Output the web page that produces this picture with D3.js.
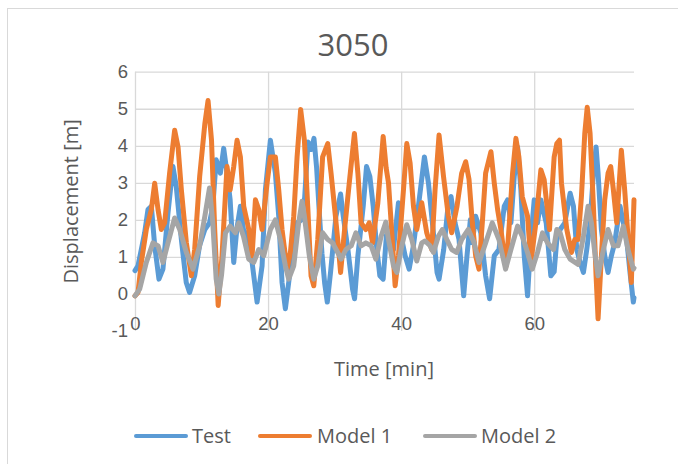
<!DOCTYPE html>
<html>
<head>
<meta charset="utf-8">
<script src="https://cdn.jsdelivr.net/npm/d3@7"></script>
<style>
  html, body { margin: 0; padding: 0; background: #fff; }
  svg { display: block; font-family: "Open Sans", "Noto Sans", sans-serif; }
</style>
</head>
<body>
<svg id="chart" width="678" height="464"></svg>
<script>
// Displacement time histories for case 3050: [time (min), displacement (m)]
const testData = [
  [0,0.63],[0.45,0.76],[0.95,1.2],[1.45,1.65],[1.95,2.28],[2.46,2.37],[2.96,1.3],[3.6,0.4],[4.2,0.67],
  [4.96,2.19],[5.7,3.44],[6.2,2.9],[6.97,1.47],[7.7,0.31],[8.2,0.04],[8.97,0.49],[9.7,1.3],[10.5,1.74],
  [11.2,1.92],[11.7,2.37],[12.2,3.62],[12.83,3.26],[13.33,3.93],[13.83,3.26],[14.3,2.54],[14.84,0.85],
  [15.3,1.74],[15.84,2.37],[16.3,1.74],[16.84,1.56],[17.6,0.85],[18.35,-0.22],[19.1,0.76],[19.6,2.81],
  [20.35,4.15],[21.1,3.26],[21.6,2.1],[22.1,0.31],[22.6,-0.4],[23.1,0.31],[23.6,1.03],[24.36,1.92],
  [25.0,2.0],[25.5,2.6],[26.0,4.1],[26.5,3.9],[26.9,4.2],[27.3,3.4],[27.7,2.2],[28.1,1.1],[28.5,0.3],
  [28.9,-0.22],[29.4,0.6],[30.2,2.1],[30.9,2.7],[31.3,2.1],[32.0,1.2],[32.7,0.13],[33.0,-0.13],[33.5,1.03],
  [34.3,2.37],[34.8,3.44],[35.3,3.17],[35.8,2.37],[36.3,1.3],[36.8,0.49],[37.3,0.4],[37.8,1.6],[38.1,1.3],
  [38.85,1.2],[39.1,1.65],[39.6,2.46],[40.1,1.47],[40.6,1.03],[41.2,0.67],[41.85,1.3],[42.6,2.37],
  [43.5,3.7],[44.1,3.0],[44.9,1.56],[45.4,0.58],[45.7,0.4],[46.4,1.2],[47.1,2.46],[47.5,2.63],[48.1,1.92],
  [48.7,1.47],[49.4,-0.05],[49.9,1.03],[50.4,2.0],[50.7,1.38],[51.2,2.1],[51.97,1.65],[52.7,0.49],
  [53.3,-0.13],[54.0,1.03],[54.7,1.2],[55.5,2.37],[56.0,2.54],[56.5,1.92],[57.0,3.17],[57.5,3.97],
  [58.0,2.81],[58.5,1.03],[59.0,-0.05],[59.5,1.47],[60.0,2.54],[60.5,1.92],[61.0,2.54],[61.8,1.92],
  [62.5,0.49],[63.0,0.6],[63.4,1.47],[63.9,1.74],[64.6,1.92],[65.4,2.72],[65.9,2.37],[66.4,1.2],
  [66.9,0.85],[67.4,0.58],[67.9,1.2],[68.4,1.92],[68.9,3.26],[69.3,3.97],[69.6,3.26],[70.1,1.74],
  [70.6,1.03],[71.1,0.58],[71.6,1.03],[72.1,1.38],[72.9,2.37],[73.4,1.92],[73.9,1.47],[74.4,0.58],
  [74.9,-0.22],[75,-0.1]
];

const model1Data = [
  [0,-0.05],[0.45,0.04],[0.95,0.85],[1.7,1.74],[2.46,2.28],[2.96,2.99],[3.46,2.28],[3.96,1.74],[4.46,1.92],
  [5.2,3.26],[5.96,4.42],[6.47,3.97],[6.97,2.81],[7.72,1.38],[8.47,0.49],[8.97,1.2],[9.72,3.17],[10.5,4.6],
  [10.98,5.22],[11.5,4.15],[11.98,1.74],[12.5,-0.31],[13.08,1.03],[13.83,3.44],[14.3,2.81],[14.84,3.44],
  [15.34,4.15],[15.84,3.7],[16.34,2.37],[17.1,1.74],[17.6,1.03],[18.1,2.54],[18.6,2.28],[19.1,1.74],
  [19.85,2.99],[20.35,3.7],[21.1,3.7],[21.6,2.81],[22.1,1.74],[22.86,0.67],[23.36,1.12],[23.86,2.1],
  [24.36,3.7],[24.9,4.98],[25.46,4.15],[25.96,2.37],[26.46,0.49],[26.87,0.22],[27.47,1.47],[28.2,3.7],
  [28.97,4.06],[29.47,3.26],[29.97,2.37],[30.47,1.47],[30.9,0.58],[31.5,1.74],[32.2,2.99],[32.98,4.33],
  [33.5,3.26],[33.98,1.92],[34.7,1.74],[35.2,1.92],[35.7,1.38],[36.5,2.46],[37.3,4.25],[37.75,3.4],
  [38.1,3.0],[38.6,1.65],[39.1,0.22],[39.6,1.03],[40.35,2.81],[40.85,4.06],[41.35,3.53],[41.85,2.37],
  [42.35,1.74],[43.1,2.46],[43.85,1.65],[44.6,1.2],[45.1,2.81],[45.7,4.29],[46.37,3.17],[47.1,2.1],
  [47.6,1.65],[48.4,2.37],[49.1,3.26],[49.7,3.57],[50.2,3.1],[50.7,1.92],[51.2,1.03],[51.7,0.67],
  [52.2,1.92],[52.7,3.26],[53.5,3.84],[54.0,2.99],[54.5,2.28],[55.0,1.74],[55.5,1.03],[55.8,0.76],
  [56.2,1.74],[56.75,3.26],[57.25,4.2],[57.7,3.7],[58.2,2.63],[59.0,2.1],[59.5,0.85],[60.25,1.92],
  [61.0,3.35],[61.5,3.08],[62.3,1.74],[63.0,3.7],[63.4,4.06],[63.8,4.15],[64.1,2.99],[64.9,1.74],
  [65.6,1.12],[66.1,1.47],[66.6,1.47],[67.1,2.63],[67.6,4.33],[67.97,5.04],[68.4,4.33],[68.9,2.37],
  [69.3,0.49],[69.6,-0.67],[70.1,1.03],[70.6,2.54],[71.1,3.26],[71.5,3.44],[71.9,2.81],[72.4,1.92],
  [73.1,3.88],[73.6,2.81],[74.3,1.03],[74.6,0.31],[75,2.54]
];

const model2Data = [
  [0,-0.05],[0.7,0.13],[1.7,0.85],[2.7,1.38],[3.46,1.3],[4.2,0.85],[4.96,1.38],[5.96,2.05],[6.72,1.74],
  [7.72,1.12],[8.72,0.67],[9.72,1.3],[10.5,2.1],[11.2,2.86],[11.7,1.9],[12.2,0.4],[12.6,0.0],[13.0,0.5],
  [13.6,1.65],[14.3,1.83],[15.08,1.65],[15.6,1.92],[16.3,1.56],[17.1,0.94],[17.85,0.85],[18.6,1.2],
  [19.35,1.03],[20.35,1.74],[21.1,2.0],[21.85,1.47],[22.6,0.76],[23.1,0.4],[23.86,0.76],[24.6,1.92],
  [25.1,2.5],[25.46,2.1],[26.2,1.03],[26.87,0.4],[27.47,0.76],[28.2,1.65],[28.97,1.47],[29.7,1.38],
  [30.47,1.12],[30.98,0.94],[31.7,1.2],[32.5,1.3],[33.2,1.65],[33.98,1.3],[34.7,1.38],[35.5,1.3],
  [36.2,0.94],[37.0,1.56],[37.7,1.94],[38.1,1.47],[38.85,0.76],[39.35,0.58],[40.1,1.3],[40.85,1.87],
  [41.6,1.47],[42.35,0.89],[43.1,1.38],[43.6,1.43],[44.35,1.3],[44.85,1.12],[45.6,1.56],[46.2,1.74],
  [46.87,1.47],[47.6,1.2],[48.36,1.12],[49.1,1.47],[50.1,1.74],[50.97,1.38],[51.7,0.85],[52.7,1.38],
  [53.7,1.92],[54.7,1.47],[55.7,0.67],[56.5,1.2],[57.5,1.83],[58.2,1.56],[59.0,1.12],[59.7,0.67],
  [60.5,1.12],[61.25,1.65],[62.0,1.38],[62.9,1.2],[63.4,1.74],[63.9,1.65],[64.6,1.2],[65.4,0.94],
  [66.6,0.8],[67.4,1.56],[68.1,2.37],[68.6,1.92],[69.1,1.12],[69.6,0.49],[70.4,1.2],[71.1,1.74],
  [71.9,1.3],[72.6,1.3],[73.4,1.83],[74.1,1.2],[74.9,0.67],[75,0.7]
];

const seriesNames = ["Test", "Model 1", "Model 2"];
const seriesColors = ["#5B9BD5", "#ED7D31", "#A5A5A5"];
const xTicks = [0, 20, 40, 60];
const yTicks = [-1, 0, 1, 2, 3, 4, 5, 6];
const chartTitle = "3050";
const xTitle = "Time [min]";
const yTitle = "Displacement [m]";

const svg = d3.select("#chart");
const textColor = "#595959";
const gridColor = "#D9D9D9";
const fmt = d => String(d);

// chart area border
svg.append("rect")
  .attr("x", 7.5).attr("y", 8.5)
  .attr("width", 720).attr("height", 520)
  .attr("fill", "#fff").attr("stroke", gridColor).attr("stroke-width", 1);

const plot = { left: 135, right: 634, top: 71.7, bottom: 331 };
const x = d3.scaleLinear().domain([0, 75]).range([plot.left, plot.right]);
const y = d3.scaleLinear().domain([-1, 6]).range([plot.bottom, plot.top]);

// horizontal gridlines
svg.append("g")
  .attr("transform", `translate(${plot.left},0)`)
  .call(d3.axisLeft(y).tickValues(yTicks.filter(v => v > -1)).tickSize(-(plot.right - plot.left)).tickFormat(""))
  .call(g => g.select(".domain").remove())
  .call(g => g.selectAll("line").attr("stroke", gridColor).attr("stroke-width", 1.3));

// vertical gridlines
svg.append("g")
  .attr("transform", `translate(0,${plot.bottom})`)
  .call(d3.axisBottom(x).tickValues(xTicks).tickSize(-(plot.bottom - plot.top)).tickFormat(""))
  .call(g => g.select(".domain").remove())
  .call(g => g.selectAll("line").attr("stroke", gridColor).attr("stroke-width", 1.3));

// y tick labels
svg.append("g")
  .attr("transform", `translate(${plot.left},0)`)
  .call(d3.axisLeft(y).tickValues(yTicks).tickSize(0).tickPadding(7).tickFormat(fmt))
  .call(g => g.select(".domain").remove())
  .call(g => g.selectAll("text").attr("fill", textColor).style("font-size", "18.5px"));

// x tick labels
svg.append("g")
  .attr("transform", `translate(0,${plot.bottom - 19})`)
  .call(d3.axisBottom(x).tickValues(xTicks).tickSize(0).tickPadding(5).tickFormat(fmt))
  .call(g => g.select(".domain").remove())
  .call(g => g.selectAll("text").attr("fill", textColor).style("font-size", "18.5px"));

// series lines
const line = d3.line().x(d => x(d[0])).y(d => y(d[1])).curve(d3.curveLinear);
[testData, model1Data, model2Data].forEach((data, i) => {
  svg.append("path")
    .datum(data)
    .attr("fill", "none")
    .attr("stroke", seriesColors[i])
    .attr("stroke-width", 5)
    .attr("stroke-linejoin", "round")
    .attr("stroke-linecap", "round")
    .attr("d", line);
});

// titles
svg.append("text")
  .attr("x", 353).attr("y", 56)
  .attr("text-anchor", "middle")
  .attr("fill", textColor)
  .style("font-size", "31px")
  .text(chartTitle);

svg.append("text")
  .attr("x", 384).attr("y", 376)
  .attr("text-anchor", "middle")
  .attr("fill", textColor)
  .style("font-size", "20px")
  .text(xTitle);

svg.append("text")
  .attr("transform", `translate(78,${(plot.top + plot.bottom) / 2}) rotate(-90)`)
  .attr("text-anchor", "middle")
  .attr("fill", textColor)
  .style("font-size", "20px")
  .text(yTitle);

// legend
const legendItems = [
  { x: 136, tx: 192 },
  { x: 260, tx: 317 },
  { x: 425, tx: 481 }
];
const legend = svg.append("g");
seriesNames.forEach((name, i) => {
  const it = legendItems[i];
  legend.append("line")
    .attr("x1", it.x).attr("x2", it.x + 50)
    .attr("y1", 436).attr("y2", 436)
    .attr("stroke", seriesColors[i]).attr("stroke-width", 4)
    .attr("stroke-linecap", "round");
  legend.append("text")
    .attr("x", it.tx).attr("y", 443)
    .attr("fill", textColor)
    .style("font-size", "20px")
    .text(name);
});
</script>
</body>
</html>
